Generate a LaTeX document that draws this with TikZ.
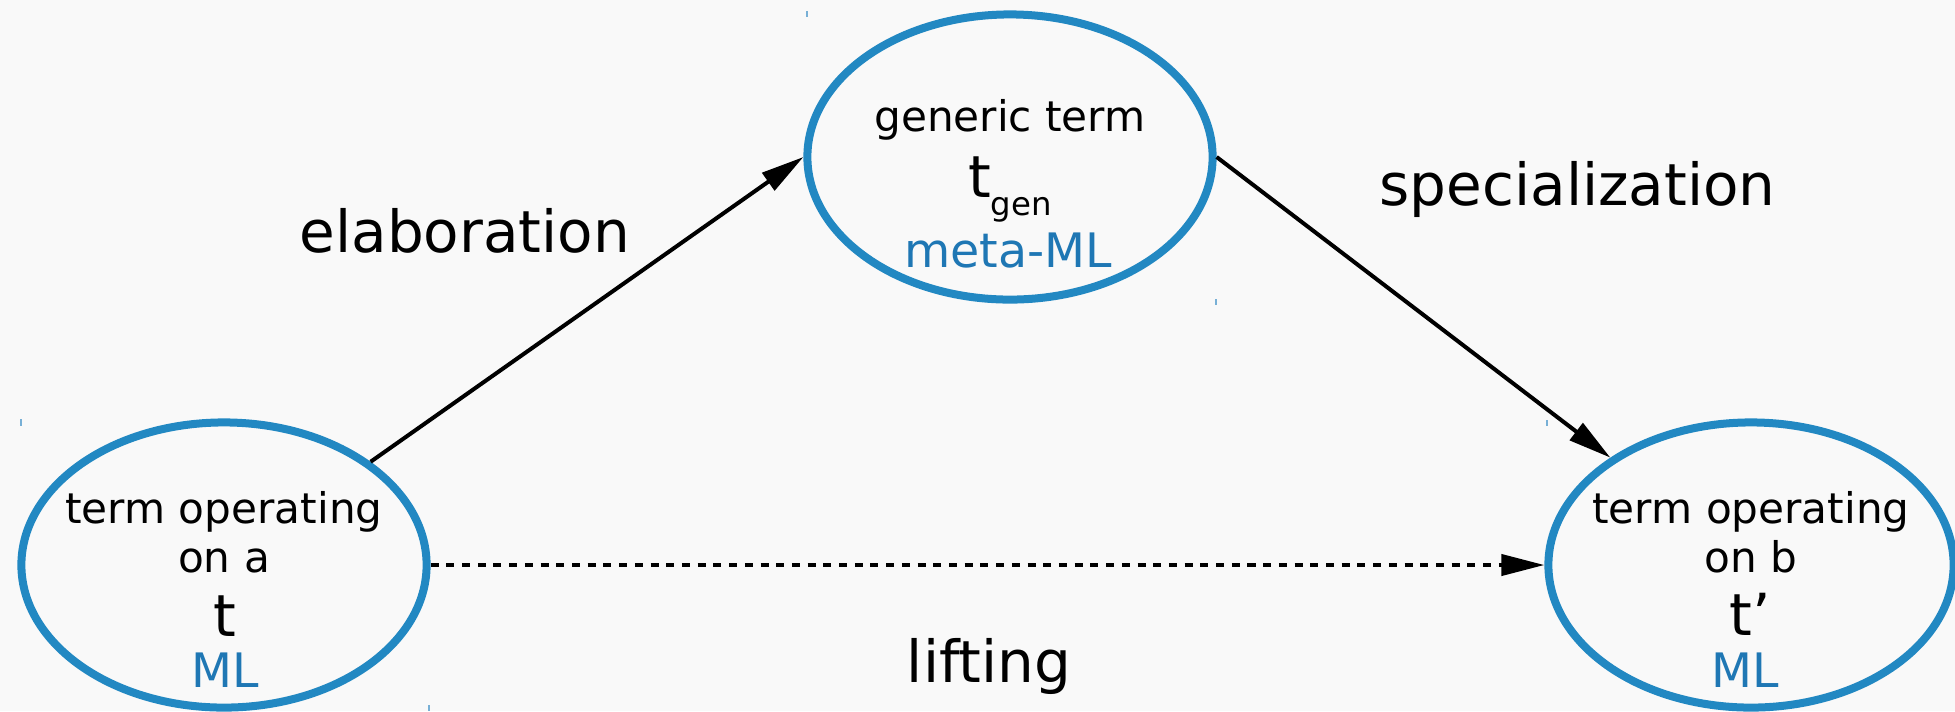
\documentclass[tikz,border=0pt]{standalone}
\usepackage{fontspec}
\setmainfont{DejaVu Sans}
\usetikzlibrary{shapes.geometric,arrows.meta}

\definecolor{bgcol}{RGB}{249,249,249}
\definecolor{ringblue}{RGB}{34,136,194}
\definecolor{langblue}{RGB}{31,119,180}
\definecolor{tickblue}{RGB}{120,176,214}

\tikzset{
  termnode/.style={draw=ringblue, line width=0.08cm, ellipse, inner sep=0pt,
                   minimum width=4.05cm, minimum height=2.85cm},
  txt/.style={anchor=base, inner sep=0pt, font=\fontsize{12}{14}\selectfont},
  sym/.style={anchor=base, inner sep=0pt, font=\fontsize{16.5}{18}\selectfont},
  lang/.style={anchor=base, inner sep=0pt, text=langblue, font=\fontsize{13.5}{15}\selectfont},
  edgelabel/.style={inner sep=0pt, font=\fontsize{16.5}{18}\selectfont},
  flow/.style={line width=0.04cm, -{Triangle[length=4.3mm,width=2.1mm]}},
  liftflow/.style={flow, dash pattern=on 0.08cm off 0.077cm},
  tick/.style={draw=tickblue, line width=0.012cm}
}

\begin{document}
\begin{tikzpicture}[x=0.01cm, y=-0.01cm]
  % canvas
  \fill[bgcol] (0,0) rectangle (1955,711);
  \useasboundingbox (0,0) rectangle (1955,711);

  % the three terms
  \node[termnode] (gen)   at (1010,157) {};
  \node[termnode] (terma) at (224,565) {};
  \node[termnode] (termb) at (1751,565) {};

  % generic term
  \node[txt]  (gentitle) at (1010,131) {generic term};
  \node[sym]  (gensym)   at (1010,197) {t\raisebox{-0.18cm}{\fontsize{9.2}{10}\selectfont gen}};
  \node[lang] (genlang)  at (1008,267) {meta-ML};

  % term on a
  \node[txt]  (atitle1) at (224,523) {term operating};
  \node[txt]  (atitle2) at (224,572) {on a};
  \node[sym]  (asym)    at (225,636) {t};
  \node[lang] (alang)   at (225,687) {ML};

  % term on b
  \node[txt]  (btitle1) at (1751,523) {term operating};
  \node[txt]  (btitle2) at (1751,572) {on b};
  \node[sym]  (bsym)    at (1750,635) {t’};
  \node[lang] (blang)   at (1745,687) {ML};

  % transformations
  \draw[flow] (terma) -- (gen.west);
  \draw[flow] (gen.east) -- (termb);
  \draw[liftflow] (terma.east) -- (termb.west);

  \node[edgelabel, anchor=base west] (elab)  at (299,252) {elaboration};
  \node[edgelabel, anchor=base west] (spec)  at (1379,205) {specialization};
  \node[edgelabel, anchor=base]      (lift)  at (989,682) {lifting};

  % small corner marks of the term frames
  \draw[tick] (807,11) -- (807,17);
  \draw[tick] (1216,299) -- (1216,305);
  \draw[tick] (21,419) -- (21,426);
  \draw[tick] (429,705) -- (429,711);
  \draw[tick] (1547,420) -- (1547,426);
\end{tikzpicture}
\end{document}
